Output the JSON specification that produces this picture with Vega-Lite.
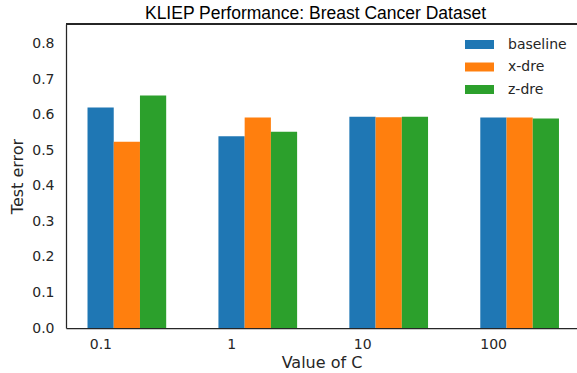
{
  "$schema": "https://vega.github.io/schema/vega-lite/v6.json",
  "width": 511,
  "height": 304,
  "autosize": {"type": "none"},
  "padding": {"left": 66, "top": 24, "right": 0, "bottom": 45},
  "background": "white",
  "config": {
    "view": {"stroke": null},
    "font": "DejaVu Sans"
  },
  "title": {
    "text": "KLIEP Performance: Breast Cancer Dataset",
    "font": "Liberation Sans",
    "fontSize": 17.5,
    "fontWeight": "normal",
    "color": "#000000",
    "anchor": "middle",
    "baseline": "alphabetic",
    "offset": -13,
    "dx": -6
  },
  "data": {
    "values": [
      {"C": "0.1", "method": "baseline", "error": 0.620},
      {"C": "0.1", "method": "x-dre", "error": 0.524},
      {"C": "0.1", "method": "z-dre", "error": 0.654},
      {"C": "1", "method": "baseline", "error": 0.539},
      {"C": "1", "method": "x-dre", "error": 0.592},
      {"C": "1", "method": "z-dre", "error": 0.552},
      {"C": "10", "method": "baseline", "error": 0.594},
      {"C": "10", "method": "x-dre", "error": 0.593},
      {"C": "10", "method": "z-dre", "error": 0.594},
      {"C": "100", "method": "baseline", "error": 0.592},
      {"C": "100", "method": "x-dre", "error": 0.592},
      {"C": "100", "method": "z-dre", "error": 0.589}
    ]
  },
  "layer": [
    {
      "mark": {"type": "bar"},
      "encoding": {
        "x": {
          "field": "C",
          "type": "nominal",
          "sort": ["0.1", "1", "10", "100"],
          "scale": {"paddingInner": 0.399, "paddingOuter": 0.151, "align": 0.544},
          "axis": {
            "title": "Value of C",
            "labelAngle": 0,
            "labelOffset": -26,
            "ticks": false,
            "tickSize": 0,
            "labelPadding": 9,
            "labelFontSize": 14,
            "labelColor": "#262626",
            "labelFont": "DejaVu Sans",
            "titleFont": "DejaVu Sans",
            "titleFontSize": 16,
            "titleFontWeight": "normal",
            "titleColor": "#262626",
            "titlePadding": 3,
            "domainColor": "#262626",
            "domainWidth": 1.25,
            "grid": false
          }
        },
        "xOffset": {
          "field": "method",
          "type": "nominal",
          "scale": {"domain": ["baseline", "x-dre", "z-dre"], "paddingInner": 0, "paddingOuter": 0}
        },
        "y": {
          "field": "error",
          "type": "quantitative",
          "scale": {"domain": [0, 0.855], "nice": false, "zero": true},
          "axis": {
            "title": "Test error",
            "values": [0, 0.1, 0.2, 0.3, 0.4, 0.5, 0.6, 0.7, 0.8],
            "tickCount": 12,
            "format": ".1f",
            "labelOverlap": false,
            "ticks": false,
            "tickSize": 0,
            "labelPadding": 12,
            "labelFontSize": 14,
            "labelColor": "#262626",
            "labelFont": "DejaVu Sans",
            "titleFont": "DejaVu Sans",
            "titleFontSize": 16,
            "titleFontWeight": "normal",
            "titleColor": "#262626",
            "titlePadding": 6,
            "domainColor": "#262626",
            "domainWidth": 1.25,
            "grid": false
          }
        },
        "color": {
          "field": "method",
          "type": "nominal",
          "scale": {"domain": ["baseline", "x-dre", "z-dre"], "range": ["#1f77b4", "#ff7f0e", "#2ca02c"]},
          "legend": {
            "title": null,
            "orient": "none",
            "legendX": 406,
            "legendY": 13,
            "padding": 0,
            "symbolType": "M-2,-0.62H2V0.62H-2Z",
            "symbolSize": 210,
            "symbolStrokeWidth": 0,
            "symbolOpacity": 1,
            "labelOffset": 21,
            "labelFontSize": 14,
            "labelFont": "DejaVu Sans",
            "labelColor": "#262626",
            "rowPadding": 7.5
          }
        }
      }
    },
    {
      "mark": {"type": "rule", "color": "#262626", "strokeWidth": 1.25},
      "encoding": {"y": {"datum": 0.855}}
    }
  ]
}
